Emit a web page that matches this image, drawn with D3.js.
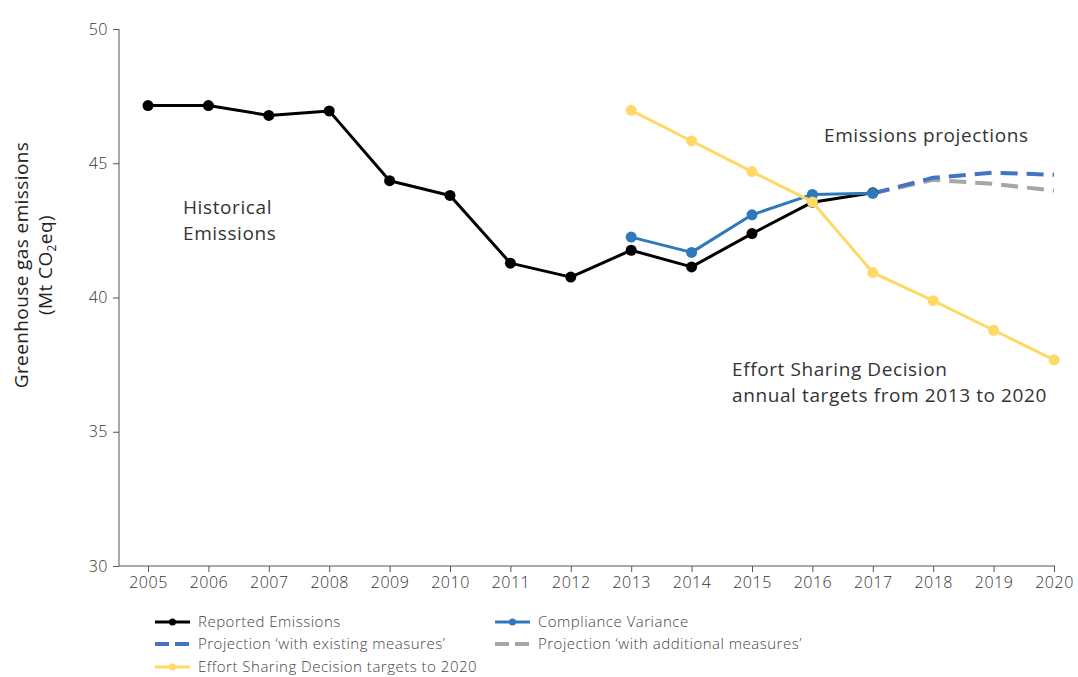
<!DOCTYPE html>
<html><head><meta charset="utf-8">
<script src="https://cdn.jsdelivr.net/npm/d3@7"></script>
<style>
body{margin:0;background:#fff;}
text{font-family:"Open Sans", Roboto, sans-serif;}
</style></head>
<body><svg id="c" width="1078" height="677"></svg>
<script>
const years = [2005,2006,2007,2008,2009,2010,2011,2012,2013,2014,2015,2016,2017,2018,2019,2020];
const reportedYears = [2005,2006,2007,2008,2009,2010,2011,2012,2013,2014,2015,2016,2017];
const reported = [47.15,47.15,46.78,46.95,44.35,43.8,41.28,40.76,41.76,41.14,42.38,43.55,43.9];
const complianceYears = [2013,2014,2015,2016,2017];
const compliance = [42.25,41.68,43.08,43.84,43.88];
const esdYears = [2013,2014,2015,2016,2017,2018,2019,2020];
const esd = [46.97,45.83,44.69,43.56,40.93,39.88,38.78,37.68];
const projYears = [2017,2018,2019,2020];
const wem = [43.88,44.46,44.65,44.57];
const wam = [43.88,44.38,44.23,43.98];
const yTicks = [30,35,40,45,50];

const svg = d3.select("#c");
const x = d3.scalePoint().domain(years).range([148,1054]);
const y = d3.scaleLinear().domain([30,50]).range([566,29]);

// axes
const yAx = svg.append("g").attr("transform","translate(119,0)")
  .call(d3.axisLeft(y).tickValues(yTicks).tickSize(6).tickPadding(5));
const xAx = svg.append("g").attr("transform","translate(0,566)")
  .call(d3.axisBottom(x).tickSize(6).tickPadding(5));
[yAx,xAx].forEach(a=>{
  a.select(".domain").attr("stroke","#555");
  a.selectAll(".tick line").attr("stroke","#555");
  a.selectAll("text").attr("fill","#333").style("font-size","16px").style("font-weight","300")
    .style("letter-spacing","0.5px").style("font-family","'Open Sans'");
});
yAx.select(".domain").attr("d","M0,29V566");
xAx.select(".domain").attr("d","M119,0H1055");

const line = d3.line().x(d=>x(d[0])).y(d=>y(d[1]));
function series(ys, vs, color, w, dash, r){
  const data = ys.map((yy,i)=>[yy,vs[i]]);
  svg.append("path").datum(data).attr("d",line).attr("fill","none")
    .attr("stroke",color).attr("stroke-width",w)
    .attr("stroke-dasharray",dash||null).attr("stroke-linejoin","round");
  if(r) svg.append("g").selectAll("circle").data(data).join("circle")
    .attr("cx",d=>x(d[0])).attr("cy",d=>y(d[1])).attr("r",r).attr("fill",color);
}
series(projYears,wam,"#a6a6a6",4,"17,9");
series(projYears,wem,"#4472c4",4,"17,9");
series(reportedYears,reported,"#000",3,null,5.5);
series(complianceYears,compliance,"#2e78bd",3,null,5.5);
series(esdYears,esd,"#ffd965",3,null,5.5);

// annotations
const ann = svg.append("g").attr("fill","#333").style("font-size","19px").style("letter-spacing","0.6px");
ann.append("text").attr("x",183).attr("y",214).text("Historical");
ann.append("text").attr("x",183).attr("y",240).text("Emissions");
ann.append("text").attr("x",824).attr("y",142).text("Emissions projections");
ann.append("text").attr("x",732).attr("y",376).text("Effort Sharing Decision");
ann.append("text").attr("x",732).attr("y",402).text("annual targets from 2013 to 2020");

// y label
const yl = svg.append("g").attr("fill","#222").style("font-size","19px").style("letter-spacing","0.4px").attr("text-anchor","middle");
yl.append("text").attr("transform","translate(28,265) rotate(-90)").text("Greenhouse gas emissions");
const t2 = yl.append("text").attr("transform","translate(52,265) rotate(-90)");
t2.append("tspan").text("(Mt CO");
t2.append("tspan").attr("dy",4).style("font-size","12px").text("2");
t2.append("tspan").attr("dy",-4).text("eq)");

// legend
const legend = [
  {label:"Reported Emissions", color:"#000", dash:null, dot:true, x:155, y:622},
  {label:"Compliance Variance", color:"#2e78bd", dash:null, dot:true, x:495, y:622},
  {label:"Projection \u2018with existing measures\u2019", color:"#4472c4", dash:"14,6", dot:false, x:155, y:644},
  {label:"Projection \u2018with additional measures\u2019", color:"#a6a6a6", dash:"14,6", dot:false, x:495, y:644},
  {label:"Effort Sharing Decision targets to 2020", color:"#ffd965", dash:null, dot:true, x:155, y:667}
];
const lg = svg.append("g").selectAll("g").data(legend).join("g")
  .attr("transform",d=>`translate(${d.x},${d.y})`);
lg.append("line").attr("x1",0).attr("x2",35).attr("stroke",d=>d.color)
  .attr("stroke-width",d=>d.dash?4:3).attr("stroke-dasharray",d=>d.dash);
lg.filter(d=>d.dot).append("circle").attr("cx",17.5).attr("r",3.5).attr("fill",d=>d.color);
lg.append("text").attr("x",43).attr("y",5).attr("fill","#444").style("font-size","15px")
  .style("font-weight","300").style("letter-spacing","0.5px").text(d=>d.label);
</script></body></html>
